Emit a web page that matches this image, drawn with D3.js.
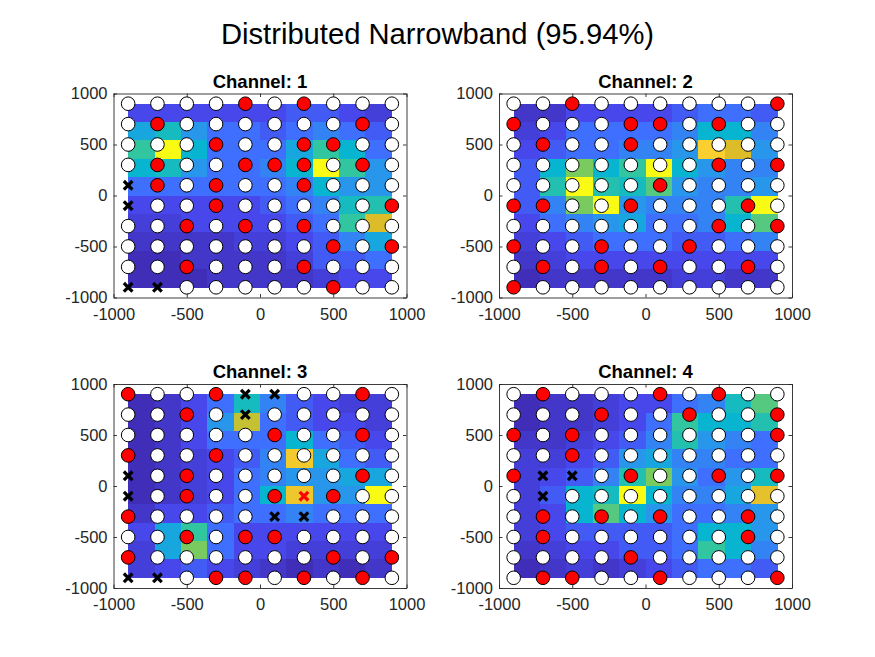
<!DOCTYPE html>
<html>
<head>
<meta charset="utf-8">
<script src="https://cdn.jsdelivr.net/npm/d3@7"></script>
<style>
  body { margin: 0; background: #fff; }
  text { font-family: "Liberation Sans", Arial, Helvetica, sans-serif; fill: #262626; }
</style>
</head>
<body>
<div id="chart"></div>
<script>
// sensor grid and heat-map cell centres (data units)
const sensorPos = [-900, -700, -500, -300, -100, 100, 300, 500, 700, 900];
const cellPos = [-810, -630, -450, -270, -90, 90, 270, 450, 630, 810];
const cellSize = 180;
const ticks = [-1000, -500, 0, 500, 1000];
const channels = [1, 2, 3, 4];

// heat values, rows from top (y = 810) to bottom (y = -810)
const heat1 = [
  [2, 2, 2, 2, 2, 2, 2.5, 2.5, 2, 1.5],
  [4.5, 5.5, 4, 3, 3, 2.5, 3, 3.5, 3, 2.5],
  [6.5, 10, 5, 3, 3, 3, 4.5, 6.5, 5, 3],
  [5, 5.5, 4, 3, 3, 3.5, 5, 10, 6.5, 4],
  [3, 3, 3, 3, 3, 3, 3.5, 5, 4, 4],
  [2, 2, 2, 2, 2, 2.5, 3, 3.5, 5.5, 6],
  [1.5, 1.5, 2, 2, 2, 2, 2.5, 3, 6.5, 8.8],
  [1, 1, 1, 1, 1.5, 1.5, 2, 2.5, 3.5, 4.5],
  [0.5, 0.5, 1, 1, 1, 1, 1.5, 2.5, 2.5, 3],
  [0.5, 0.5, 0.5, 1, 1, 1, 1, 1.5, 2, 2]
];
const heat2 = [
  [1, 1, 2, 2, 2, 2, 2.5, 3, 3, 2.5],
  [1.5, 2, 3, 3, 3, 3, 3.5, 5, 5, 3.5],
  [2, 2.5, 3, 3, 3.5, 3.5, 4, 9.5, 8.8, 4],
  [2.5, 5, 7.5, 5, 6.5, 10, 5, 4, 3.5, 3.5],
  [2.5, 6, 10, 6, 5.5, 7, 4, 3.5, 3.5, 4],
  [2.5, 3.5, 7.5, 10, 4, 3.5, 3.5, 3.5, 6, 10],
  [2, 3, 3.5, 4, 4.5, 3, 3, 3.5, 5, 7],
  [1.5, 2, 2.5, 3, 3, 3, 2.5, 2.5, 3, 3.5],
  [1, 1.5, 2, 2, 2, 2, 2, 2, 2, 2],
  [0.5, 1, 1, 1, 1, 1, 1.5, 1.5, 1, 1]
];
const heat3 = [
  [0.5, 1, 2, 3, 5.5, 3.5, 2.5, 2, 1.5, 1.5],
  [0.5, 1, 2, 4, 8.5, 3, 2.5, 2, 2, 1.5],
  [0.5, 1, 2, 3, 3, 3, 5, 3, 2.5, 2],
  [0.5, 1, 1.5, 2, 2.5, 3.5, 9.3, 4.5, 3, 2.5],
  [0.5, 1, 1.5, 2, 3, 3.5, 4, 4, 4.5, 4.5],
  [0.5, 1, 1.5, 2, 3, 5, 9.2, 4, 4, 10],
  [1, 2, 2, 2.5, 3, 3, 3.5, 3, 3, 3],
  [2, 4.5, 6.5, 3, 2, 2, 2, 2, 2, 2],
  [1.5, 4.5, 7.5, 3, 2, 2, 1.5, 1.5, 1.5, 1.5],
  [1.5, 2, 2.5, 2, 1.5, 1, 0.5, 1, 0.5, 1]
];
const heat4 = [
  [0.5, 1, 1, 1.5, 2, 2, 3, 3.5, 5.5, 7],
  [0.5, 1, 1, 1.5, 2, 3, 6.5, 5, 5, 6],
  [1, 1, 1.5, 2, 2.5, 3.5, 6, 4, 3.5, 3],
  [1.5, 1.5, 2, 2.5, 4, 4.5, 3.5, 3.5, 3, 3],
  [1.5, 2, 2.5, 3.5, 6, 7.5, 4, 3, 4, 5.5],
  [1.5, 2.5, 5, 5.5, 10, 5, 3.5, 3.5, 4.5, 9],
  [1.5, 2, 5, 7, 5, 4, 3, 3, 3.5, 4],
  [1.5, 2, 2.5, 2.5, 2.5, 2.5, 3, 5, 5, 4],
  [1, 1.5, 2, 2, 2.5, 2.5, 3, 6.5, 5, 3.5],
  [0.5, 1, 1.5, 1, 1.5, 2, 2.5, 3, 3, 2.5]
];

// sensor states, rows from y = 900 down to y = -900
// o = idle, r = active, x = failed, X = failed + active
const marks1 = [
  "oooororooo", "orooooooro", "oooroorroo", "oroorrroro", "xroroorooo",
  "xoorooooor", "oorororooo", "oooooooror", "oorooorooo", "xxoooooroo"
];
const marks2 = [
  "ooroooooor", "rooorroroo", "oroorooooo", "oooooooror", "oooooroooo",
  "rrooroooro", "oooooooror", "rooroorooo", "orororooro", "rooooooooo"
];
const marks3 = [
  "roorxxooro", "ooroxooooo", "ooooorooro", "rooroooooo", "xoroooooro",
  "xoroorXroo", "rooooxxooo", "oororroooo", "rooooooror", "xxorrororo"
];
const marks4 = [
  "orooororoo", "ooorooroor", "roroooooor", "oorooooooo", "rxxorooror",
  "oxoooooooo", "orororooro", "orooooooro", "oooorooooo", "orroorooor"
];

const heats = [heat1, heat2, heat3, heat4];
const marks = [marks1, marks2, marks3, marks4];

const W = 875, H = 657;
const pw = 293, ph = 204;
const origins = [[113.5, 93.5], [499, 93.5], [113.5, 384], [499, 384]];

// parula-like colour map
const color = d3.scaleLinear()
  .domain([0, 2, 3, 4, 5, 6.5, 7.6, 8.8, 9.5, 10])
  .range(["#3e26a8", "#4747eb", "#3e6fff", "#2796eb", "#08b5d0",
          "#31c69f", "#81cc59", "#dcbd29", "#fccf30", "#f9fb15"])
  .clamp(true);

const svg = d3.select("#chart").append("svg")
  .attr("width", W).attr("height", H);

svg.append("text")
  .attr("x", 437.5).attr("y", 44)
  .attr("text-anchor", "middle")
  .style("font-size", "29.2px")
  .style("fill", "#000")
  .text("Distributed Narrowband (95.94%)");

const x = d3.scaleLinear().domain([-1000, 1000]).range([0, pw]);
const y = d3.scaleLinear().domain([-1000, 1000]).range([ph, 0]);
const fmt = d => String(d);

channels.forEach((ch, k) => {
  const g = svg.append("g")
    .attr("transform", `translate(${origins[k][0]},${origins[k][1]})`);

  g.append("rect").attr("width", pw).attr("height", ph).attr("fill", "#fff");

  // heat map cells
  const cells = [];
  heats[k].forEach((row, i) => row.forEach((v, j) => {
    cells.push({ cx: cellPos[j], cy: cellPos[cellPos.length - 1 - i], v });
  }));
  g.append("g").attr("shape-rendering", "crispEdges")
    .selectAll("rect")
    .data(cells).enter().append("rect")
    .attr("x", d => x(d.cx - cellSize / 2))
    .attr("y", d => y(d.cy + cellSize / 2))
    .attr("width", d => x(d.cx + cellSize / 2) - x(d.cx - cellSize / 2) + 0.5)
    .attr("height", d => y(d.cy - cellSize / 2) - y(d.cy + cellSize / 2) + 0.5)
    .attr("fill", d => color(d.v));

  // axes, ticks pointing inward, box on
  const ax = g.append("g").attr("class", "axes");
  ax.append("g").attr("transform", `translate(0,${ph})`)
    .call(d3.axisBottom(x).tickValues(ticks).tickFormat(fmt)
      .tickSize(-3.5).tickPadding(10.5).tickSizeOuter(0));
  ax.append("g")
    .call(d3.axisLeft(y).tickValues(ticks).tickFormat(fmt)
      .tickSize(-3.5).tickPadding(6).tickSizeOuter(0));
  ax.append("g")
    .call(d3.axisTop(x).tickValues(ticks).tickSize(-3.5).tickSizeOuter(0).tickFormat(""));
  ax.append("g").attr("transform", `translate(${pw},0)`)
    .call(d3.axisRight(y).tickValues(ticks).tickSize(-3.5).tickSizeOuter(0).tickFormat(""));
  ax.selectAll("path.domain").attr("stroke", "#262626").attr("stroke-width", 0.9);
  ax.selectAll(".tick line").attr("stroke", "#262626").attr("stroke-width", 0.9);
  ax.selectAll(".tick text")
    .style("font-size", "16.5px")
    .style("font-family", "'Liberation Sans', Arial, sans-serif")
    .attr("fill", "#262626");

  // sensors
  const pts = [];
  marks[k].forEach((row, i) => row.split("").forEach((m, j) => {
    pts.push({ px: sensorPos[j], py: sensorPos[sensorPos.length - 1 - i], m });
  }));
  const mg = g.append("g");
  mg.selectAll("circle")
    .data(pts.filter(d => d.m === "o" || d.m === "r"))
    .enter().append("circle")
    .attr("cx", d => x(d.px)).attr("cy", d => y(d.py))
    .attr("r", 6.8)
    .attr("fill", d => d.m === "r" ? "#ff0000" : "#ffffff")
    .attr("stroke", "#000").attr("stroke-width", 1);
  const cross = mg.selectAll("g.cross")
    .data(pts.filter(d => d.m === "x" || d.m === "X"))
    .enter().append("g").attr("class", "cross")
    .attr("transform", d => `translate(${x(d.px)},${y(d.py)})`)
    .attr("stroke", d => d.m === "X" ? "#ff0000" : "#000")
    .attr("stroke-width", 3.2);
  cross.append("line").attr("x1", -4.3).attr("y1", -4.3).attr("x2", 4.3).attr("y2", 4.3);
  cross.append("line").attr("x1", -4.3).attr("y1", 4.3).attr("x2", 4.3).attr("y2", -4.3);

  g.append("text")
    .attr("x", pw / 2).attr("y", -6)
    .attr("text-anchor", "middle")
    .style("font-size", "18.5px").style("font-weight", "bold")
    .style("fill", "#000")
    .text("Channel: " + ch);
});
</script>
</body>
</html>
